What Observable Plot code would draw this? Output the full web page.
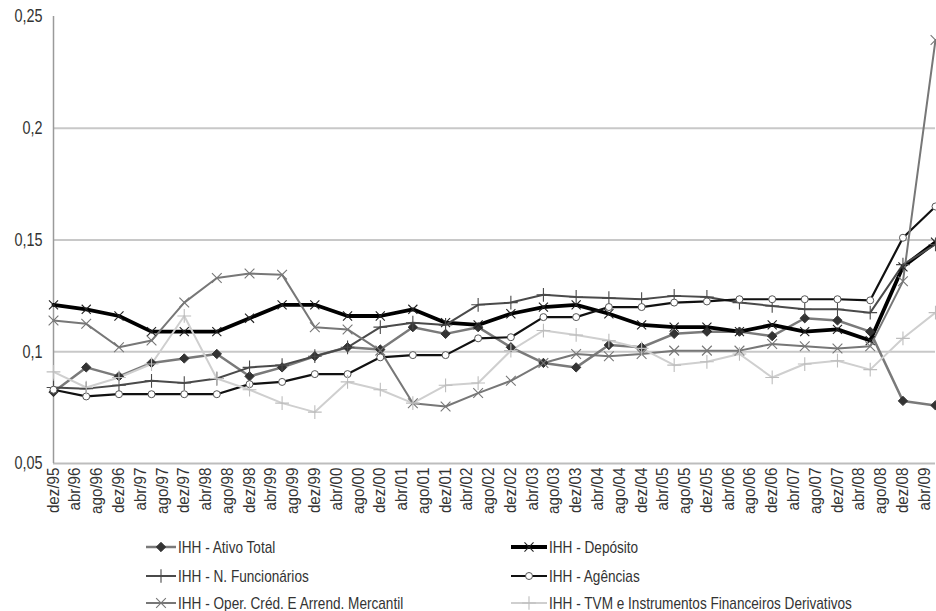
<!DOCTYPE html>
<html><head><meta charset="utf-8">
<script src="https://cdn.jsdelivr.net/npm/d3@7"></script>
<script src="https://cdn.jsdelivr.net/npm/@observablehq/plot@0.6"></script>
<style>
body{margin:0;background:#fff;}
#wrap{position:relative;width:936px;height:611px;overflow:hidden;font-family:"Liberation Sans",Arial,sans-serif;color:#333;}
#chart{position:absolute;left:0;top:0;}
.item{position:absolute;display:flex;align-items:center;height:18px;white-space:nowrap;}
.item svg{margin-right:2px;flex:none;}
.item span{display:inline-block;font-size:17px;line-height:17px;transform:scaleX(0.8);transform-origin:0 50%;}
</style></head><body><div id="wrap"><div id="chart"></div></div>
<script>
// Semiannual observation periods
const periods = ["dez/95","jun/96","dez/96","jun/97","dez/97","jun/98","dez/98","jun/99","dez/99","jun/00","dez/00","jun/01","dez/01","jun/02","dez/02","jun/03","dez/03","jun/04","dez/04","jun/05","dez/05","jun/06","dez/06","jun/07","dez/07","jun/08","dez/08","jun/09"];
// X axis tick labels
const tickLabels = ["dez/95","abr/96","ago/96","dez/96","abr/97","ago/97","dez/97","abr/98","ago/98","dez/98","abr/99","ago/99","dez/99","abr/00","ago/00","dez/00","abr/01","ago/01","dez/01","abr/02","ago/02","dez/02","abr/03","ago/03","dez/03","abr/04","ago/04","dez/04","abr/05","ago/05","dez/05","abr/06","ago/06","dez/06","abr/07","ago/07","dez/07","abr/08","ago/08","dez/08","abr/09"];
const yTicks = [0.05, 0.1, 0.15, 0.2, 0.25];
const gridTicks = [0.1, 0.15, 0.2];
const seriesNames = ["IHH - Ativo Total","IHH - Depósito","IHH - N. Funcionários","IHH - Agências","IHH - Oper. Créd. E Arrend. Mercantil","IHH - TVM e Instrumentos Financeiros Derivativos"];

const ativoTotal   = [0.082,0.093,0.089,0.095,0.097,0.099,0.089,0.093,0.098,0.102,0.101,0.111,0.108,0.111,0.102,0.095,0.093,0.103,0.102,0.108,0.109,0.109,0.107,0.115,0.114,0.109,0.078,0.076];
const deposito     = [0.121,0.119,0.116,0.109,0.109,0.109,0.115,0.121,0.121,0.116,0.116,0.119,0.113,0.112,0.117,0.120,0.121,0.117,0.112,0.111,0.111,0.109,0.112,0.109,0.110,0.105,0.138,0.149];
const funcionarios = [0.084,0.0835,0.085,0.087,0.086,0.088,0.093,0.094,0.098,0.102,0.111,0.113,0.112,0.121,0.122,0.1255,0.1245,0.124,0.1235,0.125,0.1245,0.122,0.1205,0.119,0.119,0.1175,0.139,0.148];
const agencias     = [0.083,0.080,0.081,0.081,0.081,0.081,0.0855,0.0865,0.090,0.090,0.0975,0.0985,0.0985,0.106,0.1065,0.1155,0.1155,0.120,0.120,0.122,0.1225,0.1235,0.1235,0.1235,0.1235,0.123,0.151,0.165];
const operCred     = [0.114,0.1125,0.102,0.105,0.122,0.133,0.135,0.1345,0.111,0.110,0.1005,0.077,0.0755,0.0815,0.087,0.095,0.099,0.098,0.099,0.1005,0.1005,0.1005,0.1035,0.1025,0.1015,0.1025,0.1315,0.2395];
const tvm          = [0.091,0.084,0.0885,0.0945,0.116,0.088,0.083,0.077,0.073,0.0865,0.083,0.077,0.085,0.086,0.1005,0.1095,0.1075,0.105,0.1015,0.094,0.0955,0.099,0.0885,0.0945,0.096,0.092,0.106,0.1175];

const seriesValues = [ativoTotal, deposito, funcionarios, agencias, operCred, tvm];
const styles = [
  {stroke:"#7a7a7a", sw:2.5, symbol:"diamond2", r:4.2, mFill:"#333", mStroke:"#333", mSw:1},
  {stroke:"#000", sw:3.8, symbol:"times", r:4.2, mFill:"none", mStroke:"#222", mSw:1.1},
  {stroke:"#4a4a4a", sw:2, symbol:"plus", r:4.5, mFill:"none", mStroke:"#4a4a4a", mSw:1.1},
  {stroke:"#111", sw:2.2, symbol:"circle", r:3.5, mFill:"#fff", mStroke:"#555", mSw:1},
  {stroke:"#777", sw:2, symbol:"times", r:4.5, mFill:"none", mStroke:"#777", mSw:1.1},
  {stroke:"#cfcfcf", sw:2, symbol:"plus", r:4.5, mFill:"none", mStroke:"#bdbdbd", mSw:1.1}
];

const monthIdx = {jan:0,fev:1,mar:2,abr:3,mai:4,jun:5,jul:6,ago:7,set:8,out:9,nov:10,dez:11};
function parsePeriod(s){ const [m,y]=s.split("/"); const yy=+y; return new Date(Date.UTC(yy>=50?1900+yy:2000+yy, monthIdx[m], 1)); }
const dates = periods.map(parsePeriod);
const tickDates = tickLabels.map(parsePeriod);
const labelOf = new Map(tickDates.map((d,i)=>[+d, tickLabels[i]]));

const data = [];
seriesNames.forEach((name,si)=>seriesValues[si].forEach((v,i)=>data.push({series:name, si, date:dates[i], value:v})));

const marks = [
  Plot.ruleY(gridTicks, {stroke:"#c8c8c8", strokeWidth:2}),
  Plot.ruleY([0.05], {stroke:"#bdbdbd", strokeWidth:2}),
  Plot.ruleX([dates[0]], {y1:0.05, y2:0.25, stroke:"#9a9a9a", strokeWidth:1.5}),
  Plot.axisY({ticks:yTicks, tickSize:0, tickPadding:11, fontSize:18, tickFormat:d=>String(d).replace(".",","), label:null}),
  Plot.axisX({ticks:tickDates, tickSize:0, tickPadding:4, tickRotate:-90, fontSize:16, tickFormat:d=>labelOf.get(+d), label:null})
];
seriesNames.forEach((name,si)=>{
  const st = styles[si];
  const d = data.filter(r=>r.si===si);
  marks.push(Plot.line(d, {x:"date", y:"value", stroke:st.stroke, strokeWidth:st.sw, strokeLinejoin:"round"}));
});
seriesNames.forEach((name,si)=>{
  const st = styles[si];
  const d = data.filter(r=>r.si===si);
  marks.push(Plot.dot(d, {x:"date", y:"value", symbol:st.symbol, r:st.r, fill:st.mFill, stroke:st.mStroke, strokeWidth:st.mSw}));
});

const chart = Plot.plot({
  width:936, height:525,
  marginTop:16, marginBottom:62, marginLeft:53, marginRight:1,
  style:{fontFamily:'"Liberation Sans",Arial,sans-serif', color:"#333", background:"#fff", overflow:"visible"},
  x:{type:"utc", domain:[dates[0], dates[dates.length-1]]},
  y:{domain:[0.05,0.25]},
  marks
});
document.getElementById("chart").append(chart);

// condense axis tick labels (reference uses a condensed typeface)
function condense(sel, k){
  chart.querySelectorAll(sel).forEach(t=>{
    const tr = t.getAttribute("transform") || "";
    t.setAttribute("transform", (tr + ` scale(${k},1)`).trim());
  });
}
condense('g[aria-label="x-axis tick label"] text', 0.95);
condense('g[aria-label="y-axis tick label"] text', 0.8);

// Legend
const wrap = document.getElementById("wrap");
const pos = [[146,538,30],[511,538,36],[146,567,30],[511,567,36],[146,594,30],[511,594,36]];
const symMap = {diamond2:d3.symbolDiamond2, times:d3.symbolTimes, plus:d3.symbolPlus, circle:d3.symbolCircle};
seriesNames.forEach((name,si)=>{
  const st = styles[si];
  const [left, top, w] = pos[si];
  const div = document.createElement("div");
  div.className = "item";
  div.style.left = left+"px"; div.style.top = top+"px";
  const svg = d3.create("svg").attr("width", w).attr("height", 14);
  svg.append("line").attr("x1",0).attr("x2",w).attr("y1",7).attr("y2",7).attr("stroke",st.stroke).attr("stroke-width",st.sw);
  svg.append("path").attr("transform",`translate(${w/2},7)`).attr("d", d3.symbol(symMap[st.symbol], Math.PI*st.r*st.r)())
    .attr("fill", st.mFill).attr("stroke", st.mStroke).attr("stroke-width", st.mSw);
  div.append(svg.node());
  const span = document.createElement("span"); span.textContent = name;
  div.append(span);
  wrap.append(div);
});
</script></body></html>
